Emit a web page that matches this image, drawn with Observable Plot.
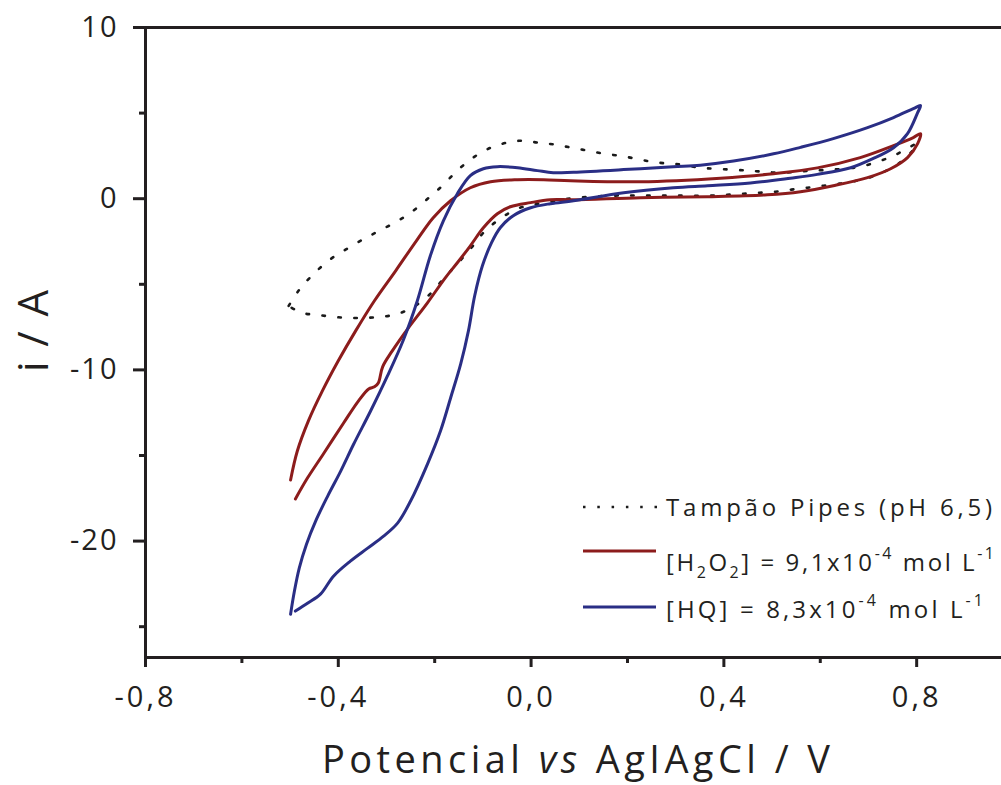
<!DOCTYPE html>
<html>
<head>
<meta charset="utf-8">
<script src="https://cdn.jsdelivr.net/npm/d3@7"></script>
<script src="https://cdn.jsdelivr.net/npm/@observablehq/plot@0.6"></script>
<style>
  html, body { margin: 0; padding: 0; background: #fff; overflow: hidden; }
  #chart svg { display: block; }
  .cv g[aria-label="x-axis tick label"] text { letter-spacing: 3px; }
  .cv g[aria-label="y-axis tick label"] text { letter-spacing: 2px; }
</style>
</head>
<body>
<div id="chart"></div>
<script>
// ---- Data ----
// Buffer (Tampão Pipes pH 6,5) – dotted loop
const bufferE = [-0.503,-0.481,-0.451,-0.418,-0.385,-0.350,-0.319,-0.283,-0.250,-0.217,-0.184,-0.151,-0.117,-0.084,-0.051,-0.018,0.015,0.049,0.084,0.117,0.150,0.183,0.217,0.250,0.283,0.316,0.349,0.383,0.451,0.517,0.584,0.650,0.683,0.719,0.752,0.783,0.802,
  0.773,0.741,0.708,0.675,0.640,0.607,0.573,0.540,0.507,0.474,0.441,0.407,0.374,0.306,0.239,0.173,0.076,0.040,0.005,-0.028,-0.061,-0.095,-0.124,-0.151,-0.180,-0.211,-0.244,-0.277,-0.310,-0.346,-0.379,-0.412,-0.445,-0.476,-0.503];
const bufferI = [-6.26,-5.32,-4.39,-3.57,-2.98,-2.40,-1.93,-1.40,-0.82,-0.06,0.76,1.70,2.46,2.98,3.27,3.39,3.27,3.16,2.98,2.81,2.63,2.51,2.34,2.16,2.05,1.99,1.81,1.75,1.64,1.52,1.64,1.75,1.87,2.16,2.51,2.98,3.22,
  2.28,1.70,1.29,1.05,0.88,0.76,0.64,0.53,0.41,0.35,0.29,0.23,0.18,0.18,0.18,0.18,0.00,-0.18,-0.35,-0.58,-1.11,-1.87,-2.87,-3.74,-4.62,-5.61,-6.32,-6.73,-6.90,-6.96,-6.96,-6.90,-6.78,-6.67,-6.26];

// [H2O2] = 9,1x10^-4 mol L^-1 – red
const h2o2E = [-0.489,-0.464,-0.431,-0.389,-0.358,-0.337,-0.325,-0.317,-0.308,-0.288,-0.256,-0.215,-0.178,-0.153,-0.126,-0.099,-0.070,-0.043,-0.001,0.040,0.088,0.227,0.366,0.490,0.559,0.627,0.698,0.746,0.781,0.802,0.808,
  0.793,0.752,0.683,0.594,0.503,0.393,0.227,0.082,0.026,-0.028,-0.084,-0.126,-0.167,-0.203,-0.238,-0.281,-0.325,-0.364,-0.400,-0.433,-0.462,-0.485,-0.499];
const h2o2I = [-17.54,-16.32,-14.91,-13.10,-11.81,-11.11,-10.99,-10.76,-9.82,-8.89,-7.60,-6.08,-4.62,-3.74,-2.75,-1.70,-0.88,-0.47,-0.23,-0.06,-0.06,0.06,0.12,0.23,0.41,0.76,1.23,1.75,2.40,3.22,3.80,
  3.57,3.10,2.40,1.80,1.46,1.20,0.99,1.05,1.11,1.11,0.99,0.64,-0.12,-1.11,-2.46,-4.21,-5.96,-7.72,-9.47,-11.23,-12.98,-14.74,-16.43];

// [HQ] = 8,3x10^-4 mol L^-1 – blue
const hqE = [-0.489,-0.464,-0.437,-0.410,-0.375,-0.339,-0.306,-0.277,-0.250,-0.215,-0.188,-0.167,-0.146,-0.130,-0.117,-0.101,-0.082,-0.064,-0.037,-0.001,0.040,0.088,0.192,0.295,0.366,0.455,0.538,0.594,0.663,0.710,0.752,0.781,0.802,0.808,
  0.793,0.752,0.698,0.627,0.559,0.503,0.420,0.351,0.295,0.192,0.088,0.046,0.013,-0.028,-0.070,-0.099,-0.126,-0.153,-0.182,-0.209,-0.236,-0.265,-0.298,-0.333,-0.368,-0.395,-0.422,-0.447,-0.466,-0.481,-0.491,-0.499];
const hqI = [-24.09,-23.63,-23.10,-22.05,-21.17,-20.41,-19.71,-18.95,-17.66,-15.50,-13.57,-11.64,-9.65,-7.72,-5.67,-3.92,-2.57,-1.70,-0.99,-0.53,-0.29,-0.12,0.35,0.64,0.76,0.92,1.20,1.42,1.81,2.35,2.98,3.80,5.03,5.44,
  5.26,4.74,4.15,3.51,3.00,2.62,2.20,1.96,1.87,1.70,1.55,1.52,1.64,1.81,1.87,1.75,1.35,0.29,-1.29,-3.33,-5.96,-8.25,-10.35,-12.40,-14.33,-15.91,-17.37,-18.83,-20.18,-21.58,-22.92,-24.27];

const xMajor = [-0.8, -0.4, 0.0, 0.4, 0.8];
const xMinor = [-0.6, -0.2, 0.2, 0.6];
const yMajor = [10, 0, -10, -20];
const yMinor = [5, -5, -15, -25];

const seriesNames = ["Tampão Pipes (pH 6,5)", "[H2O2] = 9,1x10-4 mol L-1", "[HQ] = 8,3x10-4 mol L-1"];
const seriesColors = ["#1a1a1a", "#8c1c1c", "#2a2e85"];

// ---- Build tables ----
const toRows = (E, I) => E.map((e, k) => ({E: e, I: I[k]}));
const bufferRows = toRows(bufferE, bufferI);
const h2o2Rows = toRows(h2o2E, h2o2I);
const hqRows = toRows(hqE, hqI);

const ink = "#231f20";
const fmtX = d => d.toFixed(1).replace(".", ",");

const chart = Plot.plot({
  className: "cv",
  width: 1001,
  height: 785,
  marginLeft: 145,
  marginRight: 0,
  marginTop: 27,
  marginBottom: 128,
  x: {domain: [-0.8, 0.976]},
  y: {domain: [-26.8, 10]},
  style: {fontFamily: "'Open Sans', sans-serif", color: ink, background: "#fff"},
  marks: [
    Plot.line(bufferRows, {x: "E", y: "I", stroke: seriesColors[0], strokeWidth: 2.6, strokeDasharray: "2.5 13.5", curve: "catmull-rom"}),
    Plot.line(h2o2Rows, {x: "E", y: "I", stroke: seriesColors[1], strokeWidth: 3, curve: "catmull-rom"}),
    Plot.line(hqRows, {x: "E", y: "I", stroke: seriesColors[2], strokeWidth: 3, curve: "catmull-rom"}),
    Plot.ruleY([10], {stroke: ink, strokeWidth: 3}),
    Plot.ruleY([-26.8], {stroke: ink, strokeWidth: 3}),
    Plot.ruleX([-0.8], {stroke: ink, strokeWidth: 3}),
    Plot.axisX(xMajor, {anchor: "bottom", tickSize: 10, tickPadding: 19, fontSize: 29, strokeWidth: 3, tickFormat: fmtX, label: null}),
    Plot.axisX(xMinor, {anchor: "bottom", tickSize: 6, strokeWidth: 3, tickFormat: () => "", label: null}),
    Plot.axisY(yMajor, {anchor: "left", tickSize: 12, tickPadding: 15, fontSize: 29, strokeWidth: 3, tickFormat: d => String(d), label: null}),
    Plot.axisY(yMinor, {anchor: "left", tickSize: 6, strokeWidth: 3, tickFormat: () => "", label: null})
  ]
});
document.getElementById("chart").appendChild(chart);

// ---- Titles and legend (text) ----
const svg = d3.select(chart);
const ff = "'Open Sans', sans-serif";

// y title
svg.append("text")
  .attr("transform", "translate(48,331) rotate(-90)")
  .attr("text-anchor", "middle")
  .attr("font-family", ff).attr("font-size", 42).attr("fill", ink)
  .attr("textLength", 82).attr("lengthAdjust", "spacing")
  .text("i / A");

// x title
const xt = svg.append("text")
  .attr("x", 322).attr("y", 773)
  .attr("text-anchor", "start")
  .attr("font-family", ff).attr("font-size", 38).attr("fill", ink)
  .attr("textLength", 508).attr("lengthAdjust", "spacing");
xt.append("tspan").text("Potencial ");
xt.append("tspan").attr("font-style", "italic").text("vs");
xt.append("tspan").text(" AgIAgCl / V");

// legend
const lg = svg.append("g").attr("font-family", ff).attr("fill", ink).attr("font-size", 24).attr("text-anchor", "start");
// item 1 (dotted)
lg.append("line").attr("x1", 583).attr("x2", 657).attr("y1", 507).attr("y2", 507)
  .attr("stroke", seriesColors[0]).attr("stroke-width", 2.6).attr("stroke-dasharray", "2.5 11.8");
lg.append("text").attr("x", 666).attr("y", 516).attr("textLength", 326).attr("lengthAdjust", "spacing")
  .text(seriesNames[0]);
// item 2 (red)
lg.append("line").attr("x1", 583).attr("x2", 656).attr("y1", 551).attr("y2", 551)
  .attr("stroke", seriesColors[1]).attr("stroke-width", 3);
const t2 = lg.append("text").attr("x", 666).attr("y", 571).attr("textLength", 328).attr("lengthAdjust", "spacing");
t2.append("tspan").text("[H");
t2.append("tspan").attr("font-size", 16).attr("dy", 7).text("2");
t2.append("tspan").attr("dy", -7).text("O");
t2.append("tspan").attr("font-size", 16).attr("dy", 7).text("2");
t2.append("tspan").attr("dy", -7).text("] = 9,1x10");
t2.append("tspan").attr("font-size", 16).attr("dy", -12).text("-4");
t2.append("tspan").attr("dy", 12).text(" mol L");
t2.append("tspan").attr("font-size", 16).attr("dy", -12).text("-1");
// item 3 (blue)
lg.append("line").attr("x1", 583).attr("x2", 656).attr("y1", 607).attr("y2", 607)
  .attr("stroke", seriesColors[2]).attr("stroke-width", 3);
const t3 = lg.append("text").attr("x", 666).attr("y", 618).attr("textLength", 317).attr("lengthAdjust", "spacing");
t3.append("tspan").text("[HQ] = 8,3x10");
t3.append("tspan").attr("font-size", 16).attr("dy", -12).text("-4");
t3.append("tspan").attr("dy", 12).text(" mol L");
t3.append("tspan").attr("font-size", 16).attr("dy", -12).text("-1");
</script>
</body>
</html>
